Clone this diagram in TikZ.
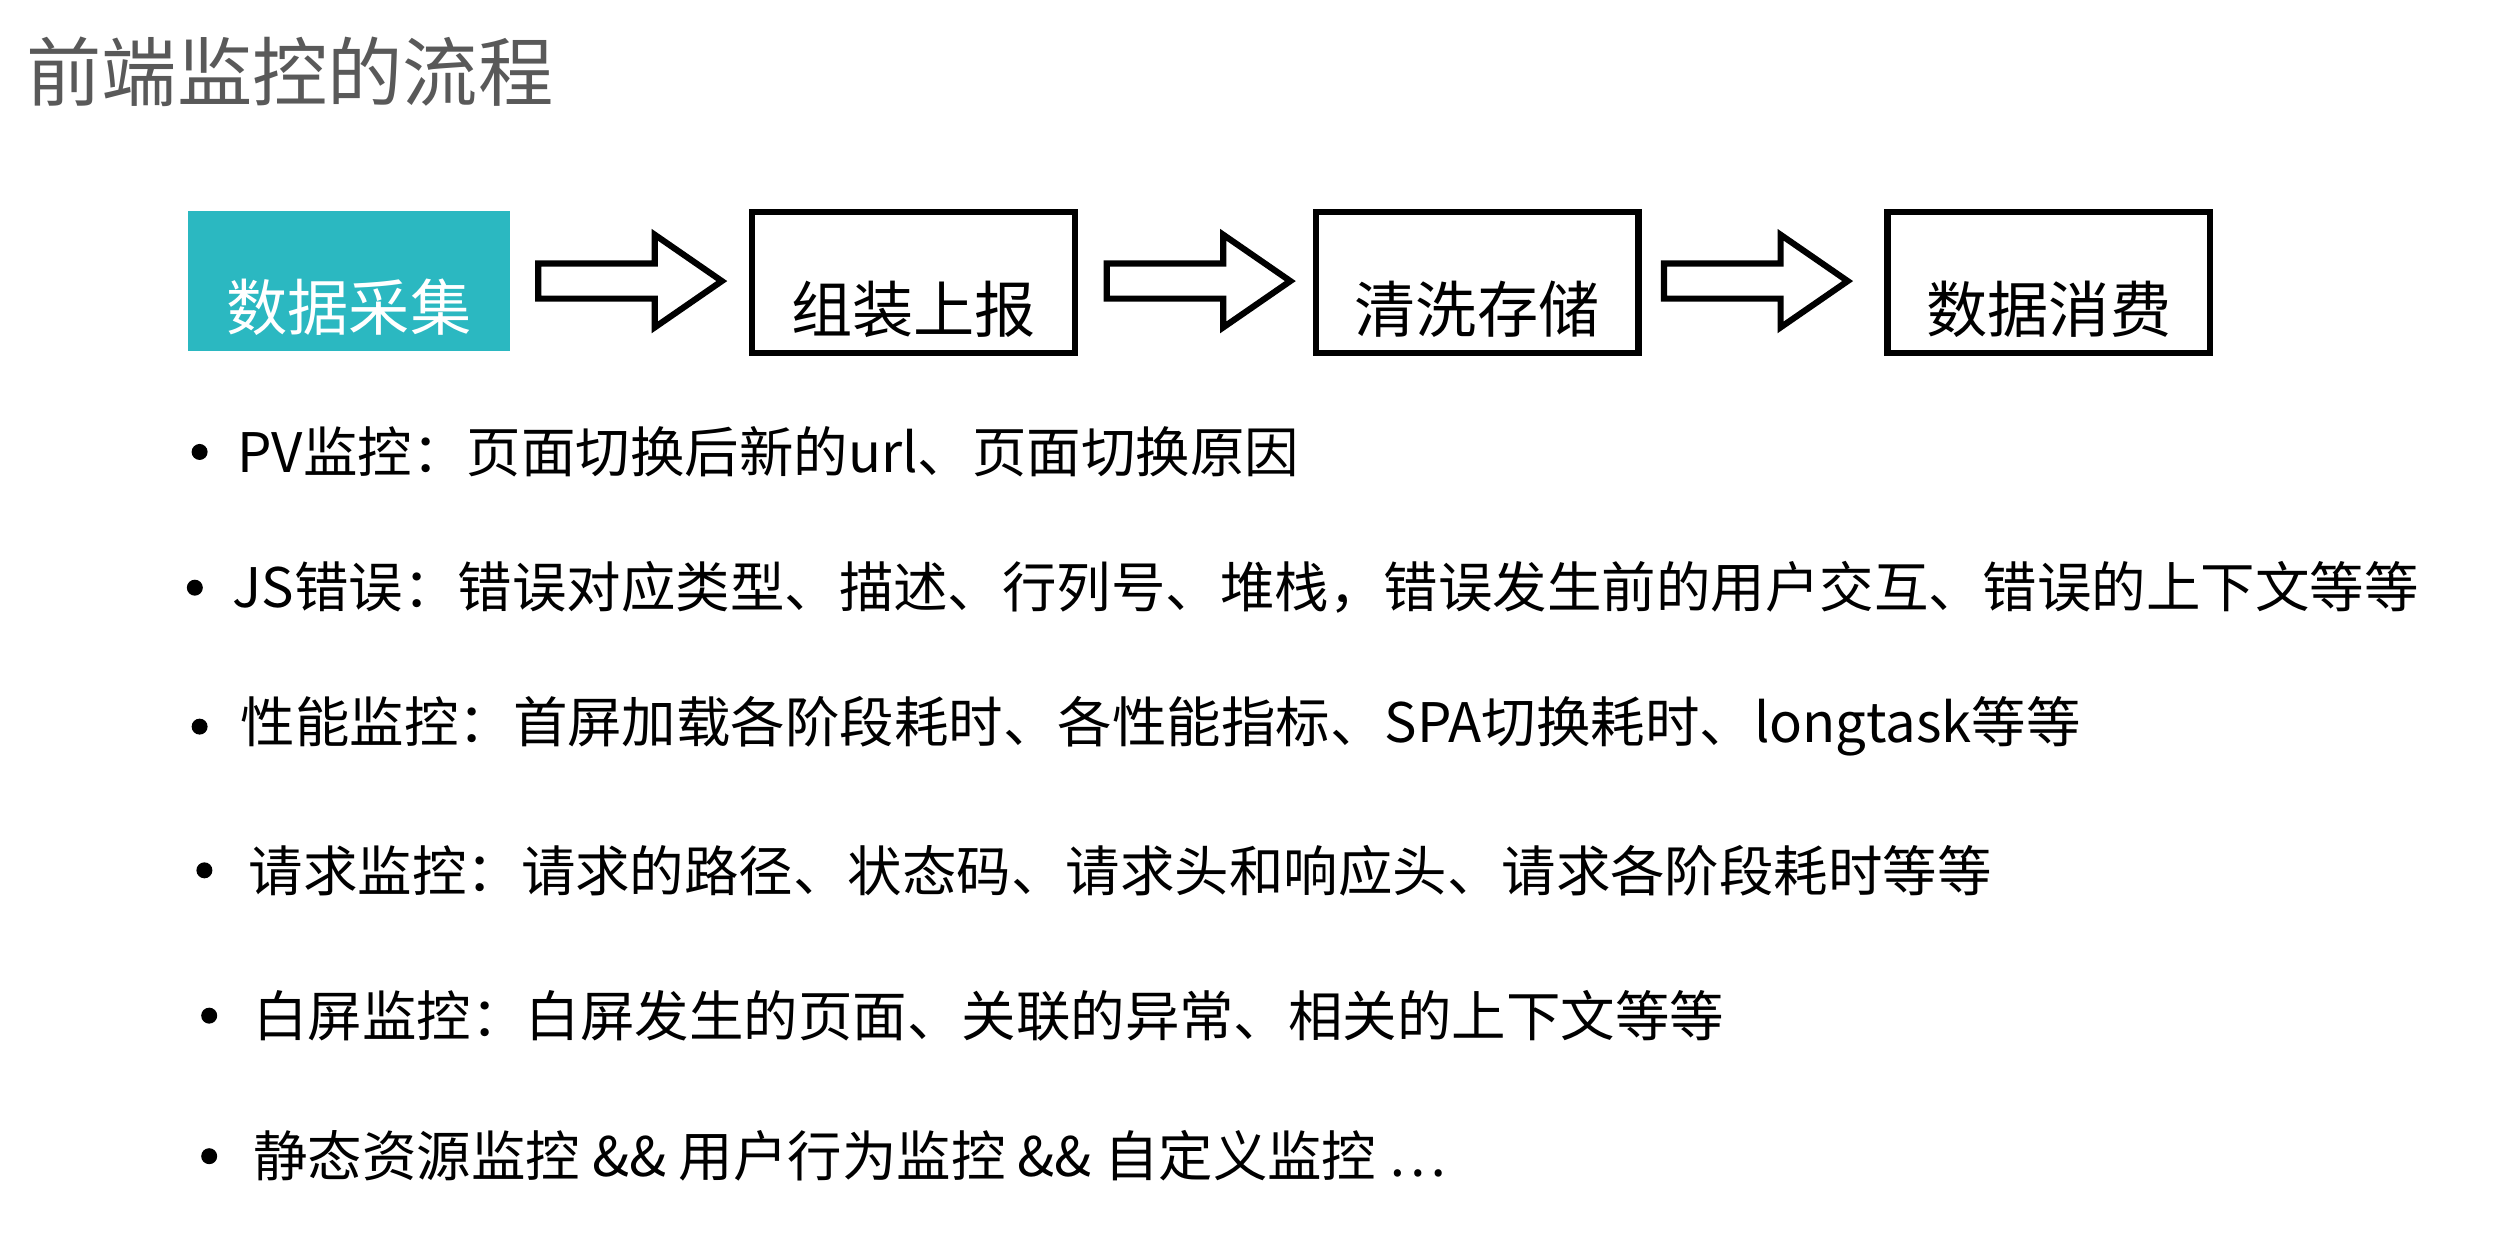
\documentclass[tikz,border=0pt]{standalone}
\usepackage{fontspec}
\setmainfont{Liberation Serif}
\newfontfamily\cjk{Noto Sans CJK SC}
\definecolor{teal1}{HTML}{2BB8C1}
\begin{document}
\begin{tikzpicture}[x=0.01cm,y=-0.01cm]
    \tikzstyle{stagebox}=[draw,line width=1.1pt,minimum width=2.02cm,minimum height=0.88cm,
                          inner sep=0pt,font=\cjk\fontsize{10.9}{12}\selectfont,
                          text height=0.62cm,text depth=0cm]
    \tikzstyle{flowarrow}=[draw,line width=1.1pt,line join=miter]
    \tikzstyle{item}=[anchor=west,inner sep=0pt,font=\cjk\fontsize{9.7}{11}\selectfont]
    \tikzstyle{dot}=[circle,fill=black,inner sep=0pt,minimum size=0.1cm]
    \useasboundingbox (0,0) rectangle (1568,778);

    % title
    \node[anchor=west,inner sep=0pt,text=black!65,font=\cjk\fontsize{13.4}{15}\selectfont]
        (title) at (16,45) {前端监控的流程};

    % the four stages of the flow
    \node[stagebox,draw=none,fill=teal1,text=white] (collect) at (218.5,176) {数据采集};
    \node[stagebox] (report)  at (572,177) {组装上报};
    \node[stagebox] (store)   at (925,177) {清洗存储};
    \node[stagebox] (consume) at (1283,177) {数据消费};

    % and the hollow arrows between them
    \foreach \ax/\name in {337/arr1, 693/arr2, 1042/arr3} {
        \coordinate (\name) at (\ax,176);
        \draw[flowarrow] (\name) ++(0,-11) -- ++(73,0) -- ++(0,-18) -- ++(42,29)
            -- ++(-42,29) -- ++(0,-18) -- ++(-73,0) -- cycle;
    }

    % what is collected
    \foreach \bx/\tx/\ty/\txt in {
        125/148/283/{PV监控：页面切换后新的url、页面切换原因},
        122/145/368/{JS错误：错误对应类型、描述、行列号、堆栈，错误发生前的用户交互、错误的上下文等等},
        125/150/455/{性能监控：首屏加载各阶段耗时、各性能指标、SPA切换耗时、longtask等等},
        128/155/545/{请求监控：请求的路径、状态码、请求头和响应头、请求各阶段耗时等等},
        131/158/636/{白屏监控：白屏发生的页面、关联的异常、相关的上下文等等},
        131/158/724/{静态资源监控 \&\& 用户行为监控 \&\& 自定义监控 …}}
    {
        \node[dot] (b\ty) at (\bx,\ty) {};
        \node[item] (t\ty) at (\tx,\ty) {\txt};
    }
\end{tikzpicture}
\end{document}
